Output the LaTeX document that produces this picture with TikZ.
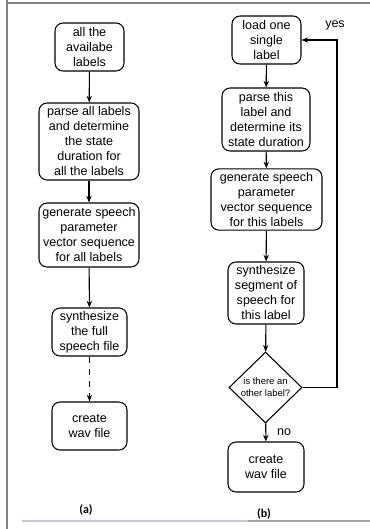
\documentclass[tikz,border=0pt]{standalone}
\usepackage{fontspec}
\setmainfont{Liberation Sans}
\newfontfamily\capfont{Carlito}
\usetikzlibrary{shapes.geometric,arrows.meta}
\definecolor{framegray}{HTML}{808080}
\definecolor{lavender}{HTML}{C4C4EE}
\begin{document}
\begin{tikzpicture}[x=0.75pt,y=-0.75pt,
  box/.style={draw,rounded corners=6pt,line width=0.8pt,inner sep=0pt,
    align=center,font=\fontsize{9.4}{11.25}\selectfont},
  decision/.style={draw,diamond,line width=0.8pt,inner sep=0pt,
    minimum width=54.75pt,minimum height=53.25pt,align=center,
    font=\fontsize{7.1}{9}\selectfont},
  arr/.style={line width=0.8pt,-{Stealth[length=5pt,width=4pt]}},
  lbl/.style={font=\fontsize{9.4}{11.25}\selectfont,inner sep=0pt},
  subcaption/.style={font=\capfont\bfseries\fontsize{9}{10}\selectfont,inner sep=0pt}]
\useasboundingbox (0,0) rectangle (370,529);
% page frame
\draw[framegray,line width=1.1pt] (7,0) -- (7,3) -- (370,3);
\draw[framegray,line width=1.1pt] (7,0) -- (7,529);
\draw[lavender,line width=0.8pt] (22,521) -- (248,521);
\draw[framegray!70,line width=0.8pt] (248,521) -- (370,521);

% (a) batch synthesis
\node[box,minimum width=51.75pt,minimum height=36pt] (a1) at (89.5,47)
  {all the\\availabe\\labels};
\node[box,minimum width=75pt,minimum height=57.75pt] (a2) at (89,141.5)
  {parse all labels\\and determine\\the state\\duration for\\all the labels};
\node[box,minimum width=75pt,minimum height=48pt] (a3) at (89,235)
  {generate speech\\parameter\\vector sequence\\for all labels};
\node[box,minimum width=56.25pt,minimum height=36pt] (a4) at (89.5,332)
  {synthesize\\the full\\speech file};
\node[box,minimum width=56.25pt,minimum height=36pt] (a5) at (89.5,426)
  {create\\wav file};
\draw[arr] (a1) -- (a2);
\draw[arr] (a2) -- (a3);
\draw[arr] (a3) -- (a4);
\draw[arr,dash pattern=on 5pt off 4pt] (a4) -- (a5);
\node[subcaption] (capa) at (86,510) {(a)};

% (b) label-by-label synthesis
\node[box,minimum width=51.75pt,minimum height=36pt] (b1) at (266.5,40)
  {load one\\single\\label};
\node[box,minimum width=66pt,minimum height=47.25pt] (b2) at (266,119.5)
  {parse this\\label and\\determine its\\state duration};
\node[box,minimum width=83.25pt,minimum height=46pt] (b3) at (266.5,199.5)
  {generate speech\\parameter\\vector sequence\\for this labels};
\node[box,minimum width=57pt,minimum height=46.5pt] (b4) at (266,293)
  {synthesize\\segment of\\speech for\\this label};
\node[decision] (d) at (265.5,387.5) {is there an\\other label?};
\node[box,minimum width=57pt,minimum height=37.5pt] (b5) at (266,467)
  {create\\wav file};
\coordinate (loop) at (337,40);
\draw[arr] (b1) -- (b2);
\draw[arr] (b2) -- (b3);
\draw[arr] (b3) -- (b4);
\draw[arr] (b4) -- (d);
\draw[arr] (d) -- (b5);
\draw[arr] (d.east) -| (loop) -- (b1.east);
\node[lbl] (yes) at (335,25) {yes};
\node[lbl] (no) at (284,432) {no};
\node[subcaption] (capb) at (264,514) {(b)};
\end{tikzpicture}
\end{document}
